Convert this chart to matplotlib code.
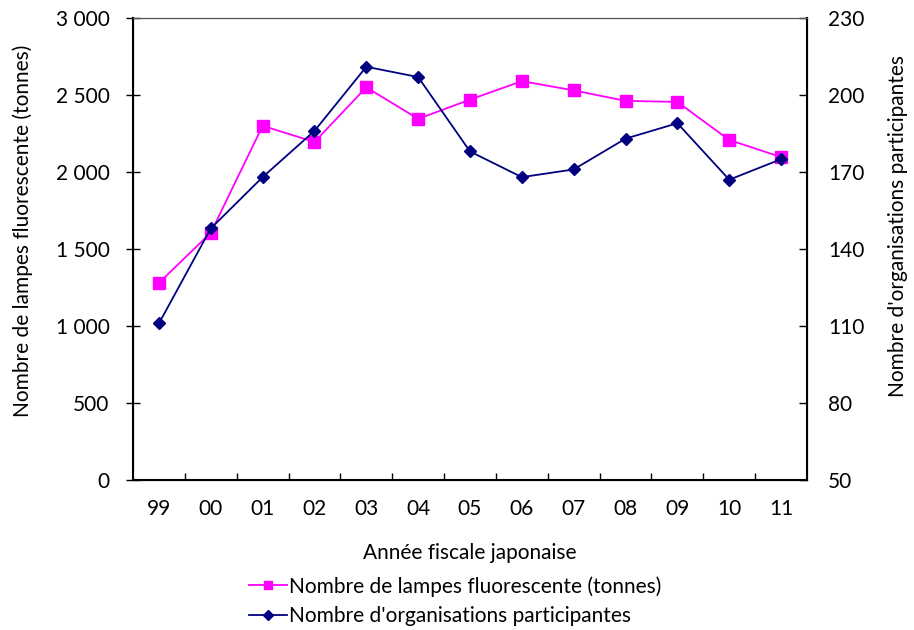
import matplotlib.pyplot as plt
from matplotlib.ticker import FuncFormatter, FixedLocator, NullFormatter

plt.rcParams['font.family'] = ['Lato', 'DejaVu Sans']

years = ['99', '00', '01', '02', '03', '04', '05', '06', '07', '08', '09', '10', '11']
lamps = [1280, 1605, 2300, 2195, 2550, 2345, 2470, 2590, 2530, 2462, 2455, 2208, 2097]
orgs = [111, 148, 168, 186, 211, 207, 178, 168, 171, 183, 189, 167, 175]

x = list(range(len(years)))
fs = 15

fig = plt.figure(figsize=(9.14, 6.30), dpi=100)
ax = fig.add_axes([133 / 914, 1 - 480 / 630, 674 / 914, 462 / 630])
ax2 = ax.twinx()

l1, = ax.plot(x, lamps, color='#FF00FF', marker='s', markersize=8, linewidth=1.3,
              label='Nombre de lampes fluorescente (tonnes)')
l2, = ax2.plot(x, orgs, color='#000080', marker='D', markersize=6, linewidth=1.3,
               label="Nombre d'organisations participantes")

ax.set_xlim(-0.5, len(years) - 0.5)
ax.set_ylim(0, 3000)
ax.set_yticks(range(0, 3001, 500))
ax.yaxis.set_major_formatter(FuncFormatter(lambda v, p: f'{int(v):,}'.replace(',', ' ')))
ax2.set_ylim(50, 230)
ax2.set_yticks(range(50, 231, 30))

ax.set_xticks(x)
ax.set_xticklabels(years)
ax.tick_params(axis='x', which='major', length=0, pad=14, labelsize=fs)
ax.xaxis.set_minor_locator(FixedLocator([i + 0.5 for i in x[:-1]]))
ax.xaxis.set_minor_formatter(NullFormatter())
ax.tick_params(axis='x', which='minor', direction='in', length=5, width=1)
ax.tick_params(axis='y', direction='inout', length=10, width=1, labelsize=fs, pad=12)
ax2.tick_params(axis='y', direction='in', length=6, width=1, labelsize=fs, pad=15)

for s in ['left', 'bottom', 'right']:
    ax2.spines[s].set_linewidth(1.5)
ax2.spines['top'].set_color('#555555')

ax.set_xlabel('Année fiscale japonaise', fontsize=fs, labelpad=17)
ax.set_ylabel('Nombre de lampes fluorescente (tonnes)', fontsize=fs)
ax.yaxis.set_label_coords(-0.148, 0.54)
ax2.set_ylabel("Nombre d'organisations participantes", fontsize=fs)
ax2.yaxis.set_label_coords(1.12, 0.55)

fig.legend(handles=[l1, l2], loc='center', bbox_to_anchor=(455 / 914, 1 - 601 / 630),
           frameon=False, fontsize=fs, handlelength=1.8, handletextpad=0.1,
           labelspacing=0.45, markerscale=0.8)

fig.savefig('out.png', dpi=100)
